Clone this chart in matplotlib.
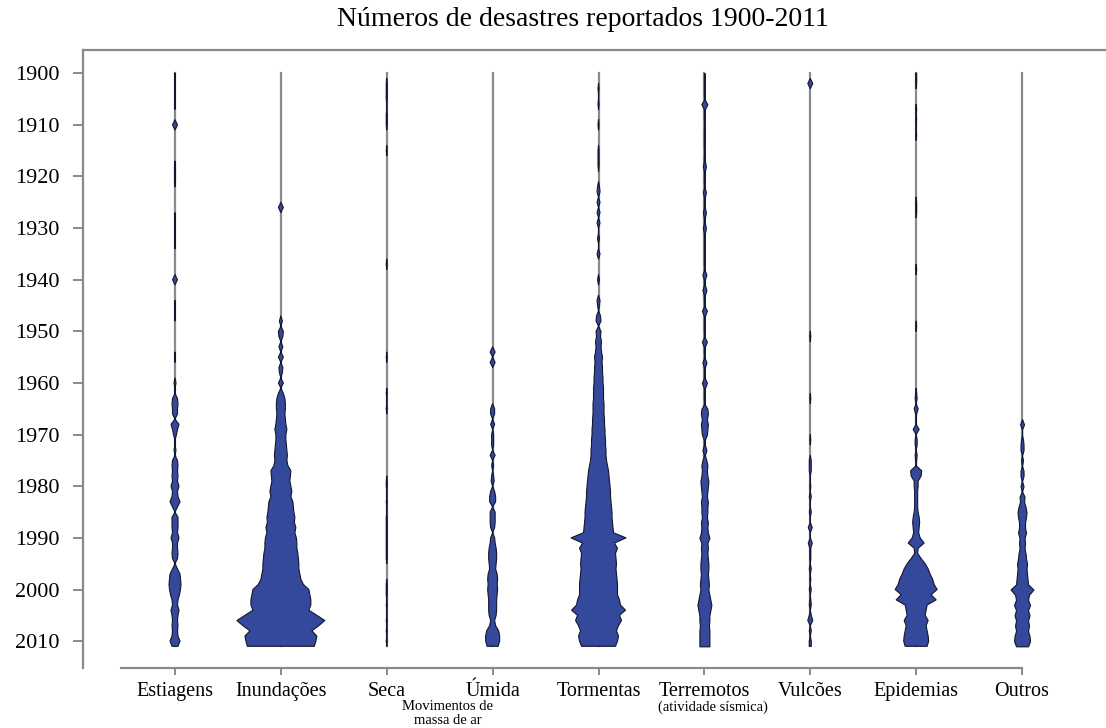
import matplotlib
matplotlib.use("Agg")
import matplotlib.pyplot as plt
import numpy as np

anos = np.arange(1900, 2012)

categorias = ["Estiagens", "Inundações", "Seca", "Úmida", "Tormentas",
              "Terremotos", "Vulcões", "Epidemias", "Outros"]

# largura relativa do feijão por ano (anos ausentes = 0)
estiagens = {1900: 1, 1903: 1, 1906: 1, 1910: 5, 1918: 1, 1919: 1, 1920: 1, 1921: 1,
             1928: 1, 1931: 1, 1933: 1, 1940: 5, 1945: 1, 1947: 1, 1955: 1, 1960: 2,
             1963: 5, 1964: 6, 1965: 5, 1966: 5, 1968: 8, 1969: 5, 1970: 3, 1973: 2,
             1975: 5, 1976: 6, 1977: 5, 1978: 6, 1979: 5, 1980: 8, 1981: 5, 1982: 6,
             1983: 10, 1984: 5, 1986: 6, 1987: 6, 1988: 6, 1989: 5, 1990: 8, 1991: 5,
             1992: 5, 1993: 6, 1994: 5, 1996: 5, 1997: 10, 1998: 11, 1999: 12, 2000: 11,
             2001: 9, 2002: 6, 2003: 5, 2004: 8, 2005: 6, 2006: 5, 2007: 6, 2008: 5,
             2009: 6, 2010: 10, 2011: 6}

inundacoes = {1926: 5, 1948: 3, 1950: 5, 1951: 4, 1953: 4, 1955: 5, 1957: 4, 1958: 3,
              1960: 5, 1962: 5, 1963: 8, 1964: 9, 1965: 9, 1966: 8, 1967: 9, 1968: 10,
              1969: 12, 1970: 10, 1971: 10, 1972: 11, 1973: 12, 1974: 13, 1975: 12,
              1976: 14, 1977: 20, 1978: 19, 1979: 18, 1980: 20, 1981: 22, 1982: 20,
              1983: 24, 1984: 25, 1985: 26, 1986: 28, 1987: 27, 1988: 30, 1989: 28,
              1990: 31, 1991: 32, 1992: 32, 1993: 34, 1994: 35, 1995: 36, 1996: 36,
              1997: 38, 1998: 40, 1999: 45, 2000: 56, 2001: 58, 2002: 60, 2003: 60,
              2004: 56, 2005: 72, 2006: 88, 2007: 76, 2008: 62, 2009: 72, 2010: 70,
              2011: 67}

seca = {1902: 1, 1903: 1, 1904: 1, 1905: 1, 1908: 1, 1909: 1, 1910: 1, 1915: 1,
        1937: 1, 1955: 1, 1962: 1, 1965: 1, 1979: 1, 1980: 1, 1983: 1, 1986: 1,
        1987: 1, 1988: 1, 1989: 1, 1990: 1, 1991: 1, 1992: 1, 1993: 1, 1994: 1,
        1999: 1, 2000: 1, 2001: 1, 2003: 1, 2006: 1, 2008: 1, 2010: 1}

umida = {1954: 5, 1956: 5, 1965: 4, 1966: 4, 1968: 4, 1970: 2, 1971: 2, 1972: 2,
         1974: 5, 1976: 2, 1978: 2, 1979: 3, 1981: 4, 1982: 6, 1983: 6, 1985: 5,
         1986: 5, 1987: 5, 1988: 4, 1990: 4, 1991: 5, 1992: 7, 1993: 8, 1994: 8,
         1995: 7, 1996: 6, 1997: 9, 1998: 10, 1999: 9, 2000: 10, 2001: 9, 2002: 8,
         2003: 8, 2004: 8, 2005: 7, 2006: 4, 2007: 6, 2008: 12, 2009: 14, 2010: 14,
         2011: 11}

tormentas = {1903: 1, 1906: 1, 1910: 1, 1915: 1, 1916: 1, 1917: 1, 1918: 1, 1922: 2,
             1923: 3, 1925: 3, 1927: 3, 1929: 3, 1932: 2, 1935: 3, 1940: 2, 1944: 3,
             1945: 2, 1947: 4, 1948: 5, 1950: 5, 1951: 4, 1952: 6, 1953: 5, 1954: 6,
             1955: 8, 1956: 7, 1957: 8, 1958: 8, 1959: 9, 1960: 9, 1961: 10, 1962: 10,
             1963: 10, 1964: 11, 1965: 11, 1966: 11, 1967: 12, 1968: 12, 1969: 13,
             1970: 13, 1971: 14, 1972: 14, 1973: 15, 1974: 15, 1975: 16, 1976: 18,
             1977: 20, 1978: 21, 1979: 22, 1980: 23, 1981: 24, 1982: 24, 1983: 25,
             1984: 26, 1985: 27, 1986: 27, 1987: 28, 1988: 29, 1989: 30, 1990: 55,
             1991: 32, 1992: 38, 1993: 34, 1994: 35, 1995: 36, 1996: 35, 1997: 36,
             1998: 37, 1999: 38, 2000: 38, 2001: 38, 2002: 42, 2003: 44, 2004: 54,
             2005: 42, 2006: 46, 2007: 40, 2008: 36, 2009: 40, 2010: 38, 2011: 34}

terremotos = {1900: 1, 1901: 1, 1902: 1, 1903: 1, 1904: 1, 1906: 6, 1907: 1, 1908: 1,
              1909: 1, 1911: 1, 1912: 1, 1913: 1, 1914: 1, 1916: 1, 1917: 1, 1918: 3,
              1919: 1, 1920: 1, 1921: 1, 1923: 3, 1924: 1, 1925: 1, 1926: 1, 1927: 3,
              1928: 1, 1929: 1, 1930: 3, 1931: 1, 1932: 1, 1933: 1, 1934: 1, 1935: 1,
              1936: 1, 1937: 1, 1939: 4, 1940: 1, 1941: 1, 1942: 4, 1943: 1, 1944: 1,
              1946: 5, 1947: 1, 1948: 1, 1949: 1, 1950: 1, 1952: 5, 1953: 1, 1954: 1,
              1956: 4, 1957: 1, 1958: 1, 1959: 1, 1960: 5, 1961: 1, 1962: 1, 1963: 1,
              1965: 6, 1966: 7, 1967: 5, 1968: 7, 1969: 6, 1970: 5, 1971: 1, 1972: 1,
              1973: 4, 1974: 1, 1975: 4, 1976: 6, 1977: 5, 1978: 6, 1979: 8, 1980: 7,
              1981: 6, 1982: 5, 1983: 7, 1984: 6, 1985: 6, 1986: 5, 1987: 7, 1988: 6,
              1989: 7, 1990: 10, 1991: 6, 1992: 7, 1993: 6, 1994: 7, 1995: 8, 1996: 8,
              1997: 7, 1998: 8, 1999: 9, 2000: 8, 2001: 10, 2002: 12, 2003: 14, 2004: 12,
              2005: 10, 2006: 10, 2007: 9, 2008: 10, 2009: 10, 2010: 10, 2011: 10}

vulcoes = {1902: 5, 1951: 1, 1963: 1, 1971: 1, 1975: 2, 1976: 2, 1977: 2, 1980: 1,
           1982: 2, 1985: 2, 1988: 4, 1991: 4, 1992: 1, 1993: 1, 1994: 1, 1996: 2,
           1998: 1, 2000: 2, 2002: 1, 2003: 2, 2005: 2, 2006: 5, 2008: 2, 2010: 2,
           2011: 2}

epidemias = {1900: 1, 1901: 1, 1902: 1, 1907: 1, 1909: 1, 1912: 1, 1925: 1, 1926: 1,
             1927: 1, 1938: 1, 1949: 1, 1962: 1, 1963: 2, 1965: 4, 1966: 1, 1969: 6,
             1971: 2, 1972: 2, 1974: 2, 1975: 1, 1977: 11, 1978: 10, 1979: 4, 1980: 4,
             1981: 3, 1982: 3, 1983: 3, 1984: 3, 1985: 4, 1986: 6, 1987: 7, 1988: 6,
             1989: 5, 1990: 8, 1991: 16, 1992: 4, 1993: 3, 1994: 10, 1995: 18, 1996: 24,
             1997: 28, 1998: 33, 1999: 36, 2000: 42, 2001: 30, 2002: 40, 2003: 22,
             2004: 20, 2005: 18, 2006: 24, 2007: 20, 2008: 22, 2009: 24, 2010: 25,
             2011: 22}

outros = {1968: 4, 1971: 2, 1972: 3, 1973: 3, 1975: 2, 1977: 3, 1978: 3, 1980: 3,
          1982: 5, 1983: 4, 1984: 7, 1985: 9, 1986: 8, 1987: 6, 1988: 6, 1989: 8,
          1990: 5, 1991: 6, 1992: 5, 1993: 7, 1994: 8, 1995: 10, 1996: 9, 1997: 10,
          1998: 11, 1999: 12, 2000: 23, 2001: 14, 2002: 12, 2003: 16, 2004: 12,
          2005: 15, 2006: 12, 2007: 14, 2008: 12, 2009: 15, 2010: 16, 2011: 12}

series = [estiagens, inundacoes, seca, umida, tormentas,
          terremotos, vulcoes, epidemias, outros]

escala = 1.0 / 212.0   # largura -> unidades do eixo x
azul = "#34489c"
cinza = "#8a8a8a"
serif = "Liberation Serif"

fig = plt.figure(figsize=(11.06, 7.28), dpi=100)
ax = fig.add_axes([83 / 1106, 60 / 728, 1023 / 1106, 618 / 728])

for i, d in enumerate(series):
    w = np.array([d.get(a, 0) for a in anos], dtype=float)
    ax.plot([i, i], [anos[0], anos[-1]], color=cinza, lw=1.6, zorder=1)
    viz = w > 0
    mask = viz.copy()
    mask[1:] |= viz[:-1]
    mask[:-1] |= viz[1:]
    ax.fill_betweenx(anos, i - w * escala, i + w * escala, where=mask,
                     facecolor=azul, edgecolor="#14172c", lw=0.8, zorder=2)

ax.set_xlim(-0.869, 8.793)
ax.set_ylim(2015.2, 1895.5)

ax.spines["right"].set_visible(False)
for s in ["left", "top", "bottom"]:
    ax.spines[s].set_color(cinza)
    ax.spines[s].set_linewidth(1.6)
ax.spines["bottom"].set_bounds(-0.51, 8)

ax.set_yticks(np.arange(1900, 2011, 10))
ax.set_yticklabels([str(a) for a in range(1900, 2011, 10)], fontfamily=serif, fontsize=16)
ax.set_xticks(range(len(categorias)))
ax.set_xticklabels(categorias, fontfamily=serif, fontsize=14.5)
ax.tick_params(axis="y", length=7, width=1.4, color=cinza, pad=10)
ax.tick_params(axis="x", length=5, width=1.4, color=cinza, pad=5)

fig.text(583 / 1106, 1 - 20 / 728, "Números de desastres reportados 1900-2011",
         ha="center", va="center", fontfamily=serif, fontsize=20)
fig.text(448 / 1106, 1 - 707 / 728, "Movimentos de", ha="center", va="center",
         fontfamily=serif, fontsize=10.5)
fig.text(448 / 1106, 1 - 721 / 728, "massa de ar", ha="center", va="center",
         fontfamily=serif, fontsize=10.5)
fig.text(713 / 1106, 1 - 707 / 728, "(atividade sísmica)", ha="center", va="center",
         fontfamily=serif, fontsize=10.5)

fig.savefig("out.png", dpi=100)
